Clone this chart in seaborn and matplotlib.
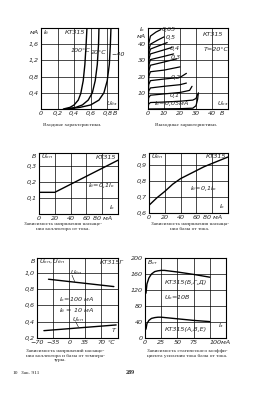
import numpy as np
import matplotlib
matplotlib.use("Agg")
import matplotlib.pyplot as plt
import pandas as pd
import seaborn as sns

# --- input characteristics (Iб vs Uбэ)
ube_100 = [0.27, 0.35, 0.40, 0.45, 0.48, 0.51, 0.53, 0.545, 0.555]
ib_100 = [0, 0.04, 0.10, 0.22, 0.38, 0.70, 1.10, 1.60, 2.00]
ube_20 = [0.30, 0.42, 0.50, 0.57, 0.62, 0.655, 0.68, 0.695, 0.70]
ib_20 = [0, 0.04, 0.10, 0.22, 0.40, 0.70, 1.10, 1.60, 2.00]
ube_m40 = [0.32, 0.47, 0.60, 0.70, 0.76, 0.80, 0.825, 0.838, 0.845]
ib_m40 = [0, 0.04, 0.10, 0.22, 0.40, 0.70, 1.10, 1.60, 2.00]

# --- output characteristics (Iк vs Uкэ), one curve per base current
ib_levels = [0, 0.05, 0.1, 0.15, 0.2, 0.25, 0.3, 0.35, 0.4, 0.45, 0.5, 0.65]
uce_pts = [
    [0, 20, 28, 30, 31, 31.5],
    [0, 0.4, 1.5, 10, 20, 28, 30, 31],
    [0, 0.4, 1.5, 10, 20, 26, 27.5],
    [0, 0.4, 1.5, 10, 20, 24],
    [0, 0.4, 1.5, 10, 20, 24],
    [0, 0.4, 1.5, 10, 20],
    [0, 0.4, 1.5, 10, 18],
    [0, 0.4, 1.5, 10, 16],
    [0, 0.4, 1.5, 10, 15],
    [0, 0.4, 1.5, 8, 12],
    [0, 0.4, 1.5, 6, 10],
    [0, 0.4, 1.5, 5, 8],
]
ik_pts = [
    [0, 0.2, 0.5, 2, 6, 10],
    [0, 3, 4, 4.3, 4.8, 5.5, 6.5, 9],
    [0, 7, 8.5, 9.3, 10.2, 11.5, 14],
    [0, 11, 13, 14, 15, 16],
    [0, 15, 17.5, 18.5, 19.5, 22],
    [0, 20, 23, 24, 26],
    [0, 23, 27, 29, 31],
    [0, 27, 30.5, 32.5, 34],
    [0, 30, 34, 36.5, 38],
    [0, 33, 37, 39.5, 41],
    [0, 36, 40, 42.5, 44.5],
    [0, 40, 45, 47.5, 49],
]

# --- collector / base saturation voltage vs Iк
ik_sat = [0, 20, 100]
ukn_sat = [0.135, 0.135, 0.335]
ik_bsat = [0, 10, 20, 30, 40, 50, 60, 70, 80, 90, 100]
ubn_sat = [0.648, 0.695, 0.735, 0.78, 0.815, 0.84, 0.865, 0.89, 0.91, 0.93, 0.95]

# --- saturation voltages vs temperature
temp_bn = [-45, 97]
ubn_t = [0.92, 0.83]
temp_kn = [-55, 102]
ukn_t = [0.29, 0.36]

# --- static gain vs current
ie_hi = [1.5, 3, 6, 10, 15, 20, 25, 30, 50, 75, 100]
b_hi = [112, 135, 150, 160, 166, 168, 169, 169, 165, 159, 152]
ie_lo = [1.5, 3, 6, 10, 15, 20, 25, 50, 75, 100]
b_lo = [22, 36, 44, 49, 51, 52, 52, 48, 44, 41]

sns.set_style("white")
plt.rcParams["font.family"] = ["DejaVu Sans"]
plt.rcParams["mathtext.default"] = "it"

W, H = 257, 400
fig = plt.figure(figsize=(W / 100, H / 100), dpi=100)
fig.patch.set_facecolor("white")

FS = 4.6
LW = 1.0


def px_axes(x0, y0, x1, y1):
    ax = fig.add_axes([x0 / W, 1 - y1 / H, (x1 - x0) / W, (y1 - y0) / H])
    for s in ax.spines.values():
        s.set_color("black")
        s.set_linewidth(0.8)
    ax.tick_params(length=0, pad=1.5, labelsize=FS)
    return ax


def grid(ax, xs, ys):
    for x in xs:
        ax.axvline(x, color="black", lw=0.5, zorder=0)
    for y in ys:
        ax.axhline(y, color="black", lw=0.5, zorder=0)


def ticks(ax, xt, xl, yt, yl):
    ax.set_xticks(xt)
    ax.set_xticklabels(xl, fontsize=FS, fontstyle="italic")
    ax.set_yticks(yt)
    ax.set_yticklabels(yl, fontsize=FS, fontstyle="italic")
    ax.set_xlabel("")
    ax.set_ylabel("")


def txt(ax, x, y, s, **kw):
    ax.text(x, y, s, fontsize=FS, fontstyle="italic", **kw)


def line(ax, x, y):
    sns.lineplot(x=x, y=y, ax=ax, color="black", lw=LW, sort=False, estimator=None)


# ---------- 1: input characteristics
ax1 = px_axes(41, 28, 118, 109)
line(ax1, ube_100, ib_100)
line(ax1, ube_20, ib_20)
line(ax1, ube_m40, ib_m40)
ax1.set_xlim(0, 0.93)
ax1.set_ylim(0, 2.0)
grid(ax1, [0.2, 0.4, 0.6, 0.8], [0.4, 0.8, 1.2, 1.6])
ticks(ax1, [0, 0.2, 0.4, 0.6, 0.8], ["0", "0,2", "0,4", "0,6", "0,8"],
      [0.4, 0.8, 1.2, 1.6], ["0,4", "0,8", "1,2", "1,6"])
txt(ax1, 0.89, -0.03, "В", transform=ax1.get_xaxis_transform(), va="top", ha="center")
txt(ax1, -0.03, 1.9, "мА", ha="right", va="center")
txt(ax1, 0.03, 1.88, r"$I_б$", va="center")
txt(ax1, 0.29, 1.88, "КТ315", va="center")
txt(ax1, 0.36, 1.45, "100°C", va="center")
txt(ax1, 0.60, 1.40, "20°C", va="center")
txt(ax1, 0.85, 1.35, "−40", va="center")
txt(ax1, 0.78, 0.14, r"$U_{бэ}$", va="center")

# ---------- 2: output characteristics
rows = []
for lvl, xs, ys in zip(ib_levels, uce_pts, ik_pts):
    for i, (x, y) in enumerate(zip(xs, ys)):
        rows.append({"ib": lvl, "order": i, "uce": x, "ik": y})
out_df = pd.DataFrame(rows)
ax2 = px_axes(148, 28, 228, 109)
sns.lineplot(data=out_df, x="uce", y="ik", units="ib", estimator=None, sort=False,
             color="black", lw=0.9, ax=ax2)
ax2.set_xlim(0, 50)
ax2.set_ylim(0, 50)
grid(ax2, [10, 20, 30, 40], [10, 20, 30, 40])
ticks(ax2, [0, 10, 20, 30, 40], ["0", "10", "20", "30", "40"],
      [10, 20, 30, 40], ["10", "20", "30", "40"])
txt(ax2, 46, -0.03, "В", transform=ax2.get_xaxis_transform(), va="top", ha="center")
txt(ax2, -1.5, 49, r"$I_к$", ha="right", va="center")
txt(ax2, -1.5, 45, "мА", ha="right", va="center")
txt(ax2, 34, 46, "КТ315", va="center")
txt(ax2, 35, 37, "T=20°C", va="center")
txt(ax2, 43, 3.5, r"$U_{кэ}$", va="center")
for lab, x, y in [("0,65", 8.5, 49), ("0,5", 11, 44), ("0,4", 13.5, 37.5),
                  ("0,3", 14, 31.5), ("0,2", 14, 19.5), ("0,1", 13.5, 8.5)]:
    txt(ax2, x, y, lab, va="center")
txt(ax2, 4, 3.2, r"$I_б$=0,05мА", va="center")

# ---------- 3: collector saturation voltage vs current
ax3 = px_axes(39, 153, 118, 214)
line(ax3, ik_sat, ukn_sat)
ax3.set_xlim(0, 100)
ax3.set_ylim(0, 0.38)
grid(ax3, [20, 40, 60, 80], [0.1, 0.2, 0.3])
ticks(ax3, [0, 20, 40, 60, 80], ["0", "20", "40", "60", "80 мА"],
      [0.1, 0.2, 0.3], ["0,1", "0,2", "0,3"])
txt(ax3, -4, 0.36, "В", ha="right", va="center")
txt(ax3, 3, 0.355, r"$U_{кн}$", va="center")
txt(ax3, 72, 0.355, "КТ315", va="center")
txt(ax3, 62, 0.175, r"$I_б$=0,1$I_к$", va="center")
txt(ax3, 88, 0.04, r"$I_к$", va="center")

# ---------- 4: base saturation voltage vs current
ax4 = px_axes(149, 153, 228, 213)
line(ax4, ik_bsat, ubn_sat)
ax4.set_xlim(0, 100)
ax4.set_ylim(0.6, 0.975)
grid(ax4, [20, 40, 60, 80], [0.7, 0.8, 0.9])
ticks(ax4, [0, 20, 40, 60, 80], ["0", "20", "40", "60", "80 мА"],
      [0.6, 0.7, 0.8, 0.9], ["0,6", "0,7", "0,8", "0,9"])
txt(ax4, -4, 0.955, "В", ha="right", va="center")
txt(ax4, 3, 0.955, r"$U_{бн}$", va="center")
txt(ax4, 72, 0.955, "КТ315", va="center")
txt(ax4, 52, 0.755, r"$I_б$=0,1$I_к$", va="center")
txt(ax4, 88, 0.64, r"$I_к$", va="center")

# ---------- 5: saturation voltages vs temperature
ax5 = px_axes(37, 258, 118, 338)
line(ax5, temp_bn, ubn_t)
line(ax5, temp_kn, ukn_t)
ax5.set_xlim(-70, 106)
ax5.set_ylim(0.2, 1.18)
grid(ax5, [-35, 0, 35, 70], [0.4, 0.6, 0.8, 1.0])
ticks(ax5, [-70, -35, 0, 35, 70], ["−70", "−35", "0", "35", "70"],
      [0.2, 0.4, 0.6, 0.8, 1.0], ["0,2", "0,4", "0,6", "0,8", "1,0"])
txt(ax5, 92, -0.03, "°C", transform=ax5.get_xaxis_transform(), va="top", ha="center")
txt(ax5, -74, 1.14, "В", ha="right", va="center")
txt(ax5, -66, 1.14, r"$U_{кн}, U_{бн}$", va="center")
txt(ax5, 66, 1.12, "КТ315Г", va="center")
txt(ax5, 2, 1.0, r"$U_{бн}$", va="center")
ax5.plot([6, 12], [0.97, 0.89], color="black", lw=0.4)
txt(ax5, -22, 0.67, r"$I_к$=100 мА", va="center")
txt(ax5, -22, 0.535, r"$I_б$ = 10 мА", va="center")
txt(ax5, 5, 0.43, r"$U_{кн}$", va="center")
ax5.plot([14, 20], [0.4, 0.335], color="black", lw=0.4)
txt(ax5, 92, 0.27, "T")

# ---------- 6: static current gain vs current
ax6 = px_axes(145, 258, 226, 338)
line(ax6, ie_hi, b_hi)
line(ax6, ie_lo, b_lo)
ax6.set_xlim(0, 125)
ax6.set_ylim(0, 200)
grid(ax6, [25, 50, 75, 100], [40, 80, 120, 160])
ticks(ax6, [0, 25, 50, 75, 100], ["0", "25", "50", "75", "100мА"],
      [0, 40, 80, 120, 160, 200], ["0", "40", "80", "120", "160", "200"])
ax6.get_xticklabels()[-1].set_horizontalalignment("left")
ax6.get_xticklabels()[-1].set_x(96)
txt(ax6, 3, 188, r"$B_{ст}$", va="center")
txt(ax6, 30, 138, "КТ315(Б,Г,Д)", va="center")
txt(ax6, 30, 100, r"$U_к$=10В", va="center")
txt(ax6, 30, 20, "КТ315(А,В,Е)", va="center")
txt(ax6, 112, 30, r"$I_э$", va="center")

# ---------- captions
CF = 3.9
cap = dict(fontsize=CF, family="Liberation Serif", ha="center", va="center")
fig.text(72 / W, 1 - 125 / H, "Входные характеристики.", **cap)
fig.text(186 / W, 1 - 125 / H, "Выходные характеристики.", **cap)
fig.text(63 / W, 1 - 224 / H, "Зависимость напряжения насыще-", **cap)
fig.text(63 / W, 1 - 229 / H, "ния коллектора от тока.", **cap)
fig.text(190 / W, 1 - 224 / H, "Зависимость напряжения насыща-", **cap)
fig.text(190 / W, 1 - 229.5 / H, "ния базы от тока.", **cap)
fig.text(65 / W, 1 - 351 / H, "Зависимость напряжений насыще-", **cap)
fig.text(65 / W, 1 - 355.5 / H, "ния коллектора и базы от темпера-", **cap)
fig.text(60 / W, 1 - 360 / H, "туры.", **cap)
fig.text(187 / W, 1 - 351 / H, "Зависимость статического коэффи-", **cap)
fig.text(187 / W, 1 - 355.5 / H, "циента усиления тока базы от тока.", **cap)
fig.text(15 / W, 1 - 373 / H, "10", **cap)
fig.text(30 / W, 1 - 373 / H, "Зак. 911", **cap)
fig.text(130 / W, 1 - 373 / H, "289", fontsize=4.3, family="Liberation Serif",
         ha="center", va="center", fontweight="bold")

fig.savefig("out.png", dpi=100, facecolor="white")
